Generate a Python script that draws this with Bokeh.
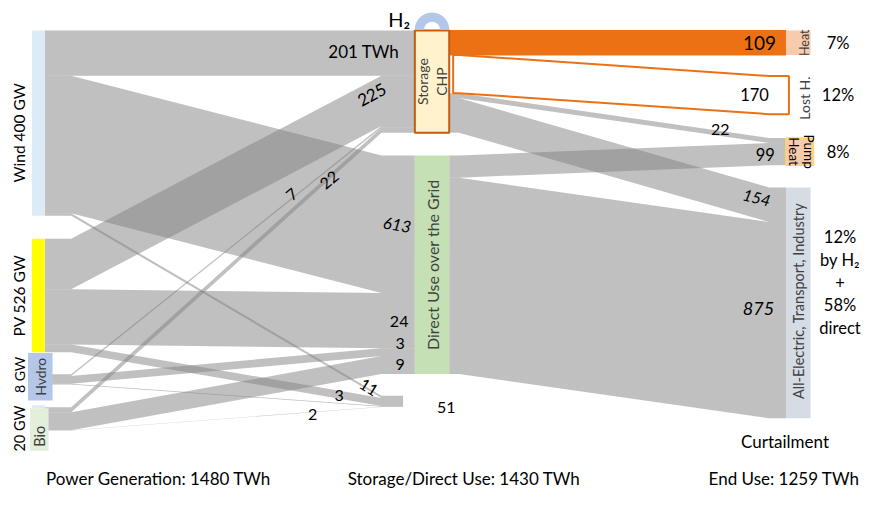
import numpy as np
from bokeh.plotting import figure
from bokeh.models import Range1d
from bokeh.core.properties import value
from bokeh.embed import file_html
from bokeh.resources import INLINE

# ---------------- data (TWh) ----------------
gen_names = ["Wind", "PV", "Hydro", "Bio"]
gen_labels = ["Wind 400 GW", "PV 526 GW", "8 GW", "20 GW"]
gen_box_text = ["", "", "Hvdro", "Bio"]
gen_to_storage = [201, 225, 7, 22]
gen_to_direct = [613, 246, 35, 80]
gen_to_curtail = [11, 35, 3, 2]
lbl_to_storage = ["201 TWh", "225", "7", "22"]
lbl_to_direct = ["613", "24", "3", "9"]
lbl_to_curtail = ["11", "3", "", "2"]

mid_names = ["Storage\nCHP", "Direct Use over the Grid"]
end_names = ["Heat", "Lost H.", "Heat\nPump", "All-Electric, Transport, Industry"]
storage_to_end = [109, 170, 22, 154]
direct_to_end = [0, 0, 99, 875]
lbl_storage_to_end = ["109", "170", "22", "154"]
lbl_direct_to_end = ["", "", "99", "875"]
end_share = ["7%", "12%", "8%", ["12%", "by H₂", "+", "58%", "direct"]]
column_titles = ["Power Generation: 1480 TWh", "Storage/Direct Use: 1430 TWh", "End Use: 1259 TWh"]
curtail_name = "Curtailment"

# ---------------- layout ----------------
K = 0.2317                      # px per TWh
FONT = "Lato"
GX0, GX1 = 32, 45
gen_top = [31, 246, 386, 420]
MX0, MX1 = 422, 457
storage_top, direct_top = 31, 160
curt_top, curt_x = 408, 410
EX0, EX1 = 800, 825
end_top = [31, 78, 142, 193]
LB0, LB1 = 72, 388
RB0, RB1 = 467, 783

GRAY = "#828282"
ORANGE = "#EB7114"

p = figure(width=866, height=492, x_range=Range1d(0, 882), y_range=Range1d(508, 0),
           output_backend="svg", toolbar_location=None, min_border=0,
           x_axis_location=None, y_axis_location=None)
p.grid.visible = False
p.outline_line_color = None
p.background_fill_color = "white"


def band(x0, b0, b1, x1, y0t, y0b, y1t, y1b):
    return ([x0, b0, b1, x1, x1, b1, b0, x0], [y0t, y0t, y1t, y1t, y1b, y1b, y0b, y0b])


def center_at(f, x):
    x0, b0, b1, x1, y0t, y0b, y1t, y1b = f
    c0, c1 = (y0t + y0b) / 2, (y1t + y1b) / 2
    if x <= b0:
        return c0
    if x >= b1:
        return c1
    return c0 + (c1 - c0) * (x - b0) / (b1 - b0)


def txt(x, y, s, size=16, angle=0, italic=False, color="black", align="center"):
    p.text(x=[x], y=[y], text=[s], angle=np.deg2rad(angle), text_font=value(FONT),
           text_font_size=value(f"{size}px"), text_font_style="italic" if italic else "normal",
           text_align=align, text_baseline="middle", text_color=color, text_line_height=1.15)


# ---------- left flows ----------
tgt_sets = [(gen_to_storage, lbl_to_storage, MX0),
            (gen_to_direct, lbl_to_direct, MX0),
            (gen_to_curtail, lbl_to_curtail, curt_x)]
src_cur = list(gen_top)
tgt_cur = [storage_top, direct_top, curt_top]
left_flows = [[None] * 4 for _ in range(3)]
gxs, gys = [], []
for i in range(4):
    for j, (vals, _, xend) in enumerate(tgt_sets):
        w = vals[i] * K
        f = (GX1, LB0, LB1, xend, src_cur[i], src_cur[i] + w, tgt_cur[j], tgt_cur[j] + w)
        src_cur[i] += w
        tgt_cur[j] += w
        left_flows[j][i] = f
        xs, ys = band(*f)
        gxs.append(xs); gys.append(ys)

# ---------- right flows ----------
r_src = [storage_top, direct_top]
r_tgt = list(end_top)
right_flows = [[None] * 4 for _ in range(2)]
for j, vals in enumerate([storage_to_end, direct_to_end]):
    for k in range(4):
        w = vals[k] * K
        if w == 0:
            continue
        xend = EX0 + (3 if k == 1 else 0)
        f = (MX1 + (4 if k == 1 else 0), RB0, RB1, xend, r_src[j], r_src[j] + w, r_tgt[k], r_tgt[k] + w)
        r_src[j] += w
        r_tgt[k] += w
        right_flows[j][k] = f
        if j == 0 and k < 2:
            continue
        xs, ys = band(*f)
        gxs.append(xs); gys.append(ys)

p.patches(xs=gxs, ys=gys, fill_color=GRAY, fill_alpha=0.5, line_color=None)

# heat (filled orange) and lost heat (outline)
hx, hy = band(*right_flows[0][0])
p.patch(x=hx, y=hy, fill_color=ORANGE, line_color=ORANGE, line_width=1)
lx_, ly_ = band(*right_flows[0][1])
p.patch(x=lx_, y=ly_, fill_color="white", line_color=ORANGE, line_width=2)

# ---------- nodes ----------
wind_bot = gen_top[0] + sum(v[0] for v in (gen_to_storage, gen_to_direct, gen_to_curtail)) * K
pv_bot = gen_top[1] + sum(v[1] for v in (gen_to_storage, gen_to_direct, gen_to_curtail)) * K
p.quad(left=[GX0], right=[GX1], top=[gen_top[0]], bottom=[wind_bot], fill_color="#DDEBF7", line_color=None)
p.quad(left=[GX0], right=[GX1], top=[gen_top[1]], bottom=[pv_bot], fill_color="#FFFF00", line_color=None)
hyd_c = gen_top[2] + 2.5
bio_c = gen_top[3] + 23
p.quad(left=[GX0 - 4], right=[GX1 + 8], top=[hyd_c - 24.5], bottom=[hyd_c + 24.5], fill_color="#B4C7E7", line_color=None)
p.quad(left=[GX0], right=[GX1], top=[bio_c - 25], bottom=[bio_c - 22], fill_color="#DDEBF7", line_color=None)
p.quad(left=[GX0 - 2], right=[GX1 + 4], top=[bio_c - 22], bottom=[bio_c + 22], fill_color="#E2EFDA", line_color=None)

storage_bot = storage_top + sum(storage_to_end) * K
direct_bot = direct_top + sum(direct_to_end) * K
p.quad(left=[MX0], right=[MX1], top=[storage_top], bottom=[storage_bot], fill_color="#FFF2CC",
       line_color="#C55A11", line_width=2)
p.quad(left=[MX0], right=[MX1], top=[direct_top], bottom=[direct_bot], fill_color="#C5E0B4", line_color=None)

end_h = [(storage_to_end[k] + direct_to_end[k]) * K for k in range(4)]
p.quad(left=[EX0], right=[EX1], top=[end_top[0]], bottom=[end_top[0] + end_h[0]], fill_color="#F8CBAD", line_color=None)
p.quad(left=[EX0], right=[EX1 + 3], top=[end_top[2]], bottom=[end_top[2] + end_h[2]], fill_color="#F8CBAD",
       line_color="#FFD966", line_width=1.5)
p.quad(left=[EX0], right=[EX1], top=[end_top[3]], bottom=[end_top[3] + end_h[3]], fill_color="#D6DCE4", line_color=None)

# H2 loop above storage
cx, cy = (MX0 + MX1) / 2, storage_top - 1
th = np.linspace(0, np.pi, 60)
ax = np.concatenate([cx + 17.5 * np.cos(th), cx + 8 * np.cos(th[::-1])])
ay = np.concatenate([cy - 17.5 * np.sin(th), cy - 8 * np.sin(th[::-1])])
p.patch(x=ax, y=ay, fill_color="#B4C7E7", line_color=None)
txt(cx - 33.5, cy - 11, "H₂", size=20)

# ---------- node texts ----------
NODE_C = "#404040"
gen_centers = [(gen_top[0] + wind_bot) / 2 + 10, (gen_top[1] + pv_bot) / 2, hyd_c - 2, bio_c - 1]
gen_sizes = [15.5, 15.5, 14, 14.5]
for i in range(4):
    txt(19, gen_centers[i], gen_labels[i], size=gen_sizes[i], angle=90)
txt(GX0 + 9, hyd_c, gen_box_text[2], size=14, angle=90, color=NODE_C)
txt(GX0 + 8, bio_c + 7, gen_box_text[3], size=14.5, angle=90, color=NODE_C)

txt((MX0 + MX1) / 2, (storage_top + storage_bot) / 2, mid_names[0], size=14, angle=90, color=NODE_C)
txt((MX0 + MX1) / 2, (direct_top + direct_bot) / 2, mid_names[1], size=16, angle=90, color=NODE_C)

end_c = [end_top[k] + end_h[k] / 2 for k in range(4)]
txt(EX1 - 6, end_c[0], end_names[0], size=12.5, angle=90, color=NODE_C)
txt(EX1 - 6, end_c[1] + 3, end_names[1], size=14, angle=90, color=NODE_C)
hp = end_names[2].split("\n")
txt(EX0 + 8, end_c[2], hp[0], size=13.5, angle=-90, color="black")
txt(EX0 + 23, end_c[2], hp[1], size=13.5, angle=-90, color="black")
txt((EX0 + EX1) / 2, end_c[3] - 2, end_names[3], size=14.5, angle=90, color=NODE_C)

for k in range(3):
    txt(853, end_c[k], end_share[k], size=16.5)
for n, line in enumerate(end_share[3]):
    txt(855, end_c[3] - 21 + (n - 2) * 23.5, line, size=16.5)

# ---------- flow value labels ----------
left_specs = [
    [(370, -2, 0, False, 17), (378, -12, 28, False, 17), (297, -4, 40, False, 16), (335, 3, 40, False, 16)],
    [(404, 0, -10, True, 16.5), (406, 1, 0, False, 16), (407, -9, 0, False, 16), (407, -1, 0, False, 16)],
    [(375, -2, -32, False, 16), (345, 1, 0, False, 16), None, (318, 3, 0, False, 16)],
]
for j, (vals, lbls, _) in enumerate(tgt_sets):
    for i in range(4):
        spec = left_specs[j][i]
        if spec is None or not lbls[i]:
            continue
        x, dy, ang, it, sz = spec
        txt(x, center_at(left_flows[j][i], x) + dy, lbls[i], size=sz, angle=ang, italic=it)

right_specs = [
    [(773, 0, 0, False, 19), (768, 0, 0, False, 16.5), (733, -4, 0, False, 16), (770, -3, -14, True, 16)],
    [None, None, (779, 0, 0, False, 16.5), (772, -10, 0, True, 18)],
]
for j, lbls in enumerate([lbl_storage_to_end, lbl_direct_to_end]):
    for k in range(4):
        spec = right_specs[j][k]
        if spec is None or not lbls[k]:
            continue
        x, dy, ang, it, sz = spec
        txt(x, center_at(right_flows[j][k], x) + dy, lbls[k], size=sz, angle=ang, italic=it)

curt_total = sum(gen_to_curtail)
txt(curt_x + 44, curt_top + 12, str(curt_total), size=16)
txt(799, 455, curtail_name, size=17)

# ---------- column titles ----------
for x, t in zip([161, 472, 798], column_titles):
    txt(x, 494, t, size=17)

open("out.html", "w").write(file_html(p, INLINE))
